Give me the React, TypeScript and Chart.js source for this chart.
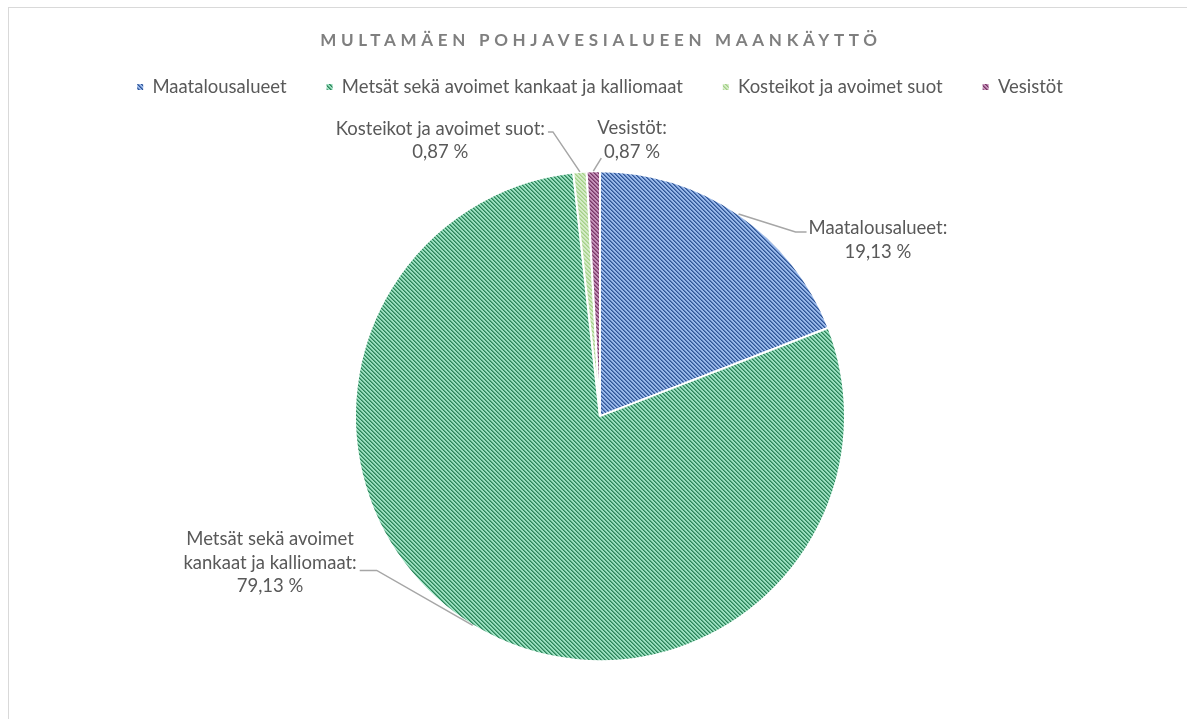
import React, { useEffect, useRef } from "react";
import { Chart, registerables, DoughnutController } from "chart.js";

Chart.register(...registerables);

// ---- data ----
const categories = [
  "Maatalousalueet",
  "Metsät sekä avoimet kankaat ja kalliomaat",
  "Kosteikot ja avoimet suot",
  "Vesistöt",
];
const shares = [19.13, 79.13, 0.87, 0.87];
const chartTitle = "MULTAMÄEN POHJAVESIALUEEN MAANKÄYTTÖ";

// ---- styles ----
const fgColors = ["#2f5597", "#2b8459", "#a3cf86", "#773565"];
const bgColors = ["#99b8ea", "#9adfbf", "#d5ecc8", "#c592b9"];
const FONT = "Lato, 'Open Sans', sans-serif";
const TEXT_COLOR = "#595959";
const LABEL_SIZE = 18.5;
const LINE_H = 23.5;

// leader line + text placement relative to each slice's outer mid-point
const LABEL_LAYOUT = [
  { elbow: [57, 18], run: 11, textDx: 2, textDy: -4, align: "left", wrap: 400 },
  { elbow: [-96, -55], run: -17, textDx: -3, textDy: -31, align: "right", wrap: 190 },
  { elbow: [-27, -40], run: -5, textDx: -3, textDy: -3, align: "right", wrap: 400 },
  { elbow: [8, -13], run: 0, textDx: -4, textDy: -30, align: "left", wrap: 400 },
];

function fmt(v: number) {
  return v.toFixed(2).replace(".", ",") + " %";
}

function hexToRgb(h: string) {
  const n = parseInt(h.slice(1), 16);
  return [(n >> 16) & 255, (n >> 8) & 255, n & 255];
}

function makePattern(ctx: CanvasRenderingContext2D, fg: string, bg: string) {
  const c = document.createElement("canvas");
  c.width = 4;
  c.height = 4;
  const g = c.getContext("2d")!;
  g.fillStyle = bg;
  g.fillRect(0, 0, 4, 4);
  const a = hexToRgb(fg);
  const b = hexToRgb(bg);
  const t = 0.6;
  const mix = `rgb(${Math.round(a[0] * t + b[0] * (1 - t))},${Math.round(a[1] * t + b[1] * (1 - t))},${Math.round(
    a[2] * t + b[2] * (1 - t)
  )})`;
  for (let y = 0; y < 4; y++) {
    for (let x = 0; x < 4; x++) {
      const m = (((x - y) % 4) + 4) % 4;
      if (m === 0) {
        g.fillStyle = fg;
        g.fillRect(x, y, 1, 1);
      } else if (m === 1) {
        g.fillStyle = mix;
        g.fillRect(x, y, 1, 1);
      }
    }
  }
  return ctx.createPattern(c, "repeat")!;
}

function wrapText(ctx: CanvasRenderingContext2D, text: string, maxW: number) {
  const words = text.split(" ");
  const lines: string[] = [];
  let cur = "";
  for (const w of words) {
    const t = cur ? cur + " " + w : w;
    if (cur && ctx.measureText(t).width > maxW) {
      lines.push(cur);
      cur = w;
    } else cur = t;
  }
  if (cur) lines.push(cur);
  return lines;
}

const titlePlugin = {
  id: "spacedTitle",
  afterDraw(chart: any) {
    const ctx = chart.ctx as CanvasRenderingContext2D;
    ctx.save();
    ctx.font = `bold 17px ${FONT}`;
    (ctx as any).letterSpacing = "4.7px";
    ctx.fillStyle = "#7f7f7f";
    ctx.textAlign = "center";
    ctx.textBaseline = "alphabetic";
    ctx.fillText(chartTitle, 592, 38);
    ctx.restore();
  },
};

const labelPlugin = {
  id: "sliceLabels",
  afterDatasetsDraw(chart: any) {
    const ctx = chart.ctx as CanvasRenderingContext2D;
    const meta = chart.getDatasetMeta(0);
    ctx.save();
    ctx.font = `${LABEL_SIZE}px ${FONT}`;
    ctx.textBaseline = "middle";
    ctx.textAlign = "center";
    meta.data.forEach((arc: any, i: number) => {
      const p = arc.getProps(["x", "y", "startAngle", "endAngle", "outerRadius"], true);
      const mid = (p.startAngle + p.endAngle) / 2;
      const ax = p.x + Math.cos(mid) * p.outerRadius;
      const ay = p.y + Math.sin(mid) * p.outerRadius;
      const L = LABEL_LAYOUT[i];
      const ex = ax + L.elbow[0];
      const ey = ay + L.elbow[1];
      const lx = ex + L.run;
      const ly = ey;
      ctx.strokeStyle = "#a6a6a6";
      ctx.lineWidth = 1.5;
      ctx.beginPath();
      ctx.moveTo(ax, ay);
      ctx.lineTo(ex, ey);
      if (L.run !== 0) ctx.lineTo(lx, ly);
      ctx.stroke();
      const lines = wrapText(ctx, categories[i] + ":", L.wrap);
      lines.push(fmt(shares[i]));
      const maxW = Math.max(...lines.map((t) => ctx.measureText(t).width));
      const left = L.align === "left" ? lx + L.textDx : lx + L.textDx - maxW;
      const cx = left + maxW / 2;
      ctx.fillStyle = TEXT_COLOR;
      lines.forEach((t, k) => ctx.fillText(t, cx, ly + L.textDy + k * LINE_H));
    });
    ctx.restore();
  },
};

export default function App() {
  const ref = useRef<HTMLCanvasElement | null>(null);

  useEffect(() => {
    const canvas = ref.current!;
    const ctx = canvas.getContext("2d")!;
    const patterns = fgColors.map((f, i) => makePattern(ctx, f, bgColors[i]));
    const baseGen =
      (DoughnutController as any).overrides?.plugins?.legend?.labels?.generateLabels ||
      (Chart as any).overrides.doughnut.plugins.legend.labels.generateLabels;

    const chart = new Chart(canvas, {
      type: "pie",
      data: {
        labels: categories,
        datasets: [
          {
            data: shares,
            backgroundColor: patterns as any,
            borderColor: "#ffffff",
            borderWidth: 2,
            radius: 245,
          } as any,
        ],
      },
      options: {
        responsive: false,
        animation: false,
        layout: { padding: { top: 29.75, left: 4, right: 0, bottom: 0 } },
        plugins: {
          legend: {
            position: "top",
            labels: {
              boxWidth: 6,
              boxHeight: 6,
              padding: 40,
              color: TEXT_COLOR,
              font: { family: FONT, size: LABEL_SIZE },
              generateLabels(c: any) {
                return baseGen(c).map((it: any) => ({ ...it, lineWidth: 0, strokeStyle: "rgba(0,0,0,0)" }));
              },
            },
          },
          tooltip: { enabled: false },
          title: { display: false },
        },
      },
      plugins: [titlePlugin, labelPlugin],
    });
    return () => chart.destroy();
  }, []);

  return (
    <div
      style={{
        position: "fixed",
        left: 8,
        top: 7,
        width: 1179,
        height: 712,
        borderLeft: "1px solid #d9d9d9",
        borderTop: "1px solid #d9d9d9",
        background: "#ffffff",
        overflow: "hidden",
      }}
    >
      <canvas ref={ref} width={1178} height={718} style={{ position: "absolute", left: 0, top: 0 }} />
    </div>
  );
}
